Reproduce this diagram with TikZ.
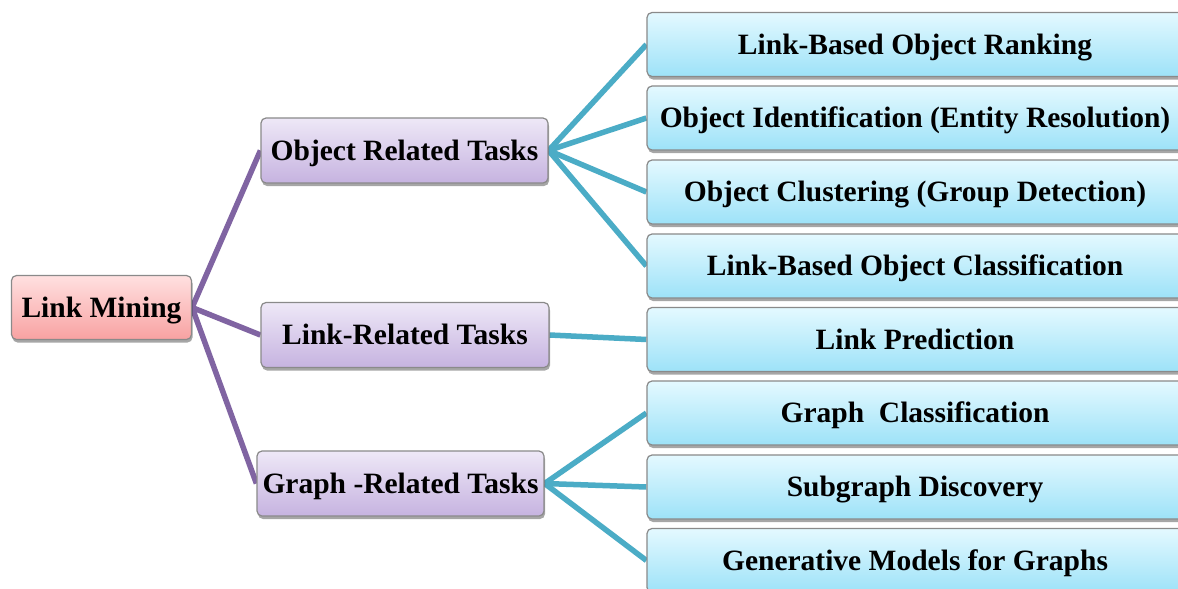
\documentclass[tikz,border=0pt]{standalone}
\usepackage{fontspec}
\setmainfont{Liberation Serif}
\usetikzlibrary{shadows,backgrounds}
\definecolor{rootTop}{HTML}{FFE0E0}
\definecolor{rootBot}{HTML}{F8A2A2}
\definecolor{midTop}{HTML}{EEE8F7}
\definecolor{midBot}{HTML}{C6B3E0}
\definecolor{leafTop}{HTML}{E4F9FF}
\definecolor{leafBot}{HTML}{9DE2F8}
\definecolor{purpleLine}{HTML}{8064A2}
\definecolor{cyanLine}{HTML}{4BACC6}
\definecolor{boxEdge}{HTML}{8A8A8A}
\tikzset{
  box/.style={draw=boxEdge, line width=1.2pt, rounded corners=5pt,
    inner sep=0pt, align=center, text height=26.5pt, text depth=7pt,
    font=\fontsize{29.5}{33}\selectfont\bfseries,
    drop shadow={shadow xshift=1pt, shadow yshift=-3pt, opacity=0.35, fill=black}},
  rootbox/.style={box, top color=rootTop, bottom color=rootBot,
    minimum width=180pt, minimum height=64pt},
  midbox/.style={box, top color=midTop, bottom color=midBot,
    minimum width=287pt, minimum height=65pt},
  leafbox/.style={box, top color=leafTop, bottom color=leafBot,
    minimum width=536pt, minimum height=64pt},
  plink/.style={draw=purpleLine, line width=5.5pt},
  clink/.style={draw=cyanLine, line width=5.5pt},
}
\begin{document}
\begin{tikzpicture}[x=1pt, y=-1pt]
\useasboundingbox (0,0) rectangle (1178,589);

% root
\node[rootbox] (lm) at (101.5,307.5) {Link Mining};

% second level
\node[midbox] (ort) at (404.5,150.5) {Object Related Tasks};
\node[midbox, minimum width=288pt] (lrt) at (405,335) {Link-Related Tasks};
\node[midbox] (grt) at (400.5,483.5) {Graph -Related Tasks};

% leaves
\node[leafbox] (l1) at (915,44.5) {Link-Based Object Ranking};
\node[leafbox] (l2) at (915,118) {Object Identification (Entity Resolution)};
\node[leafbox] (l3) at (915,192) {Object Clustering (Group Detection)};
\node[leafbox] (l4) at (915,266) {Link-Based Object Classification};
\node[leafbox] (l5) at (915,339.5) {Link Prediction};
\node[leafbox] (l6) at (915,413) {Graph~~Classification};
\node[leafbox] (l7) at (915,487) {Subgraph Discovery};
\node[leafbox] (l8) at (915,560.5) {Generative Models for Graphs};

% white page, then the connectors underneath the boxes
\begin{scope}[on background layer]
  \fill[white] (0,0) rectangle (1178,589);
  \draw[plink] (lm.east) -- (ort.west);
  \draw[plink] (lm.east) -- (lrt.west);
  \draw[plink] (lm.east) -- (grt.west);
  \foreach \t in {l1,l2,l3,l4}
    \draw[clink] (ort.east) -- (\t.west);
  \draw[clink] (lrt.east) -- (l5.west);
  \foreach \t in {l6,l7,l8}
    \draw[clink] (grt.east) -- (\t.west);
\end{scope}
\end{tikzpicture}
\end{document}
